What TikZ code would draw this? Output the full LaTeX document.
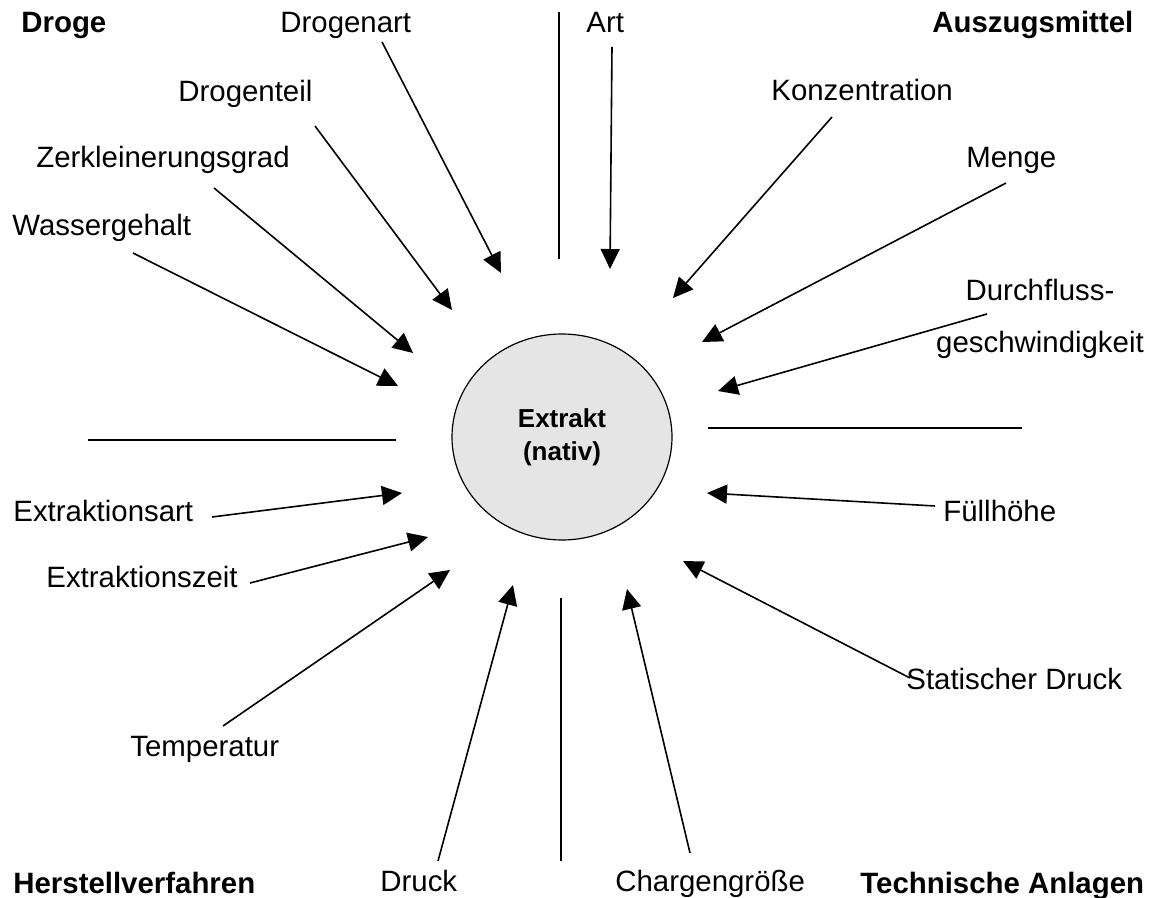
\documentclass[tikz,border=0pt]{standalone}
\usepackage{fontspec}
\setmainfont{Liberation Sans}
\usetikzlibrary{shapes.geometric,arrows.meta}

\begin{document}
\begin{tikzpicture}[x=0.5pt, y=-0.5pt]
    % Define styles
    \tikzstyle{lbl} = [anchor=base west, inner sep=0pt, font=\fontsize{14.7pt}{17pt}\selectfont]
    \tikzstyle{heading} = [lbl, font=\fontsize{14.7pt}{17pt}\selectfont\bfseries]
    \tikzstyle{extrakt} = [ellipse, draw=black, line width=0.6pt, fill=black!10, minimum width=110pt, minimum height=103pt, inner sep=0pt, align=center, font=\fontsize{13pt}{16.5pt}\selectfont\bfseries]
    \tikzstyle{arrow} = [line width=0.8pt, -{Triangle[length=10pt, width=9.5pt]}]
    \tikzstyle{divider} = [line width=0.8pt]

    \useasboundingbox (0,0) rectangle (1153,898);

    % Centre
    \node [extrakt] (extrakt) at (562,437) {Extrakt\\(nativ)};

    % Group headings
    \node [heading] (droge) at (21,33) {Droge};
    \node [heading] (auszug) at (932,33) {Auszugsmittel};
    \node [heading] (herstell) at (13,893) {Herstellverfahren};
    \node [heading] (technik) at (860,893) {Technische Anlagen};

    % Labels
    \node [lbl] (drogenart) at (280,33) {Drogenart};
    \node [lbl] (drogenteil) at (178,102) {Drogenteil};
    \node [lbl] (zerkl) at (36,168) {Zerkleinerungsgrad};
    \node [lbl] (wasser) at (12,236) {Wassergehalt};
    \node [lbl] (art) at (586,33) {Art};
    \node [lbl] (konz) at (771,101) {Konzentration};
    \node [lbl] (menge) at (966,168) {Menge};
    \node [lbl, anchor=base, align=center, font=\fontsize{14.7pt}{26pt}\selectfont] (durch) at (1040,353) {Durchfluss-\\geschwindigkeit};
    \node [lbl] (exart) at (13,522) {Extraktionsart};
    \node [lbl] (exzeit) at (46,588) {Extraktionszeit};
    \node [lbl] (temp) at (130,757) {Temperatur};
    \node [lbl] (druck) at (380,892) {Druck};
    \node [lbl] (charge) at (615,892) {Chargengröße};
    \node [lbl] (fuell) at (943,522) {Füllhöhe};
    \node [lbl] (statisch) at (906,690) {Statischer Druck};

    % Arrow ends
    \coordinate (drogenart-s) at (382,42);   \coordinate (drogenart-e) at (501,273);
    \coordinate (drogenteil-s) at (315,126); \coordinate (drogenteil-e) at (452,310);
    \coordinate (zerkl-s) at (214,188);      \coordinate (zerkl-e) at (413,353);
    \coordinate (wasser-s) at (133,253);     \coordinate (wasser-e) at (398,386);
    \coordinate (art-s) at (612,47);         \coordinate (art-e) at (610,269);
    \coordinate (konz-s) at (832,117);       \coordinate (konz-e) at (673,298);
    \coordinate (menge-s) at (1006,183);     \coordinate (menge-e) at (702,342);
    \coordinate (durch-s) at (987,314);      \coordinate (durch-e) at (718,391);
    \coordinate (exart-s) at (212,517);      \coordinate (exart-e) at (402,493);
    \coordinate (exzeit-s) at (250,583);     \coordinate (exzeit-e) at (428,537);
    \coordinate (temp-s) at (223,726);       \coordinate (temp-e) at (450,570);
    \coordinate (druck-s) at (438,861);      \coordinate (druck-e) at (513,585);
    \coordinate (charge-s) at (690,853);     \coordinate (charge-e) at (627,589);
    \coordinate (fuell-s) at (935,506);      \coordinate (fuell-e) at (707,493);
    \coordinate (statisch-s) at (910,678);   \coordinate (statisch-e) at (683,561);

    % Dividers between the groups
    \coordinate (top-a) at (559,12);    \coordinate (top-b) at (559,259);
    \coordinate (bot-a) at (561,598);   \coordinate (bot-b) at (561,861);
    \coordinate (left-a) at (88,440);   \coordinate (left-b) at (396,440);
    \coordinate (right-a) at (708,428); \coordinate (right-b) at (1022,428);
    \draw [divider] (top-a) -- (top-b);
    \draw [divider] (bot-a) -- (bot-b);
    \draw [divider] (left-a) -- (left-b);
    \draw [divider] (right-a) -- (right-b);

    % Arrows
    \foreach \n in {drogenart,drogenteil,zerkl,wasser,art,konz,menge,durch,exart,exzeit,temp,druck,charge,fuell,statisch}
        \draw [arrow] (\n-s) -- (\n-e);
\end{tikzpicture}
\end{document}
